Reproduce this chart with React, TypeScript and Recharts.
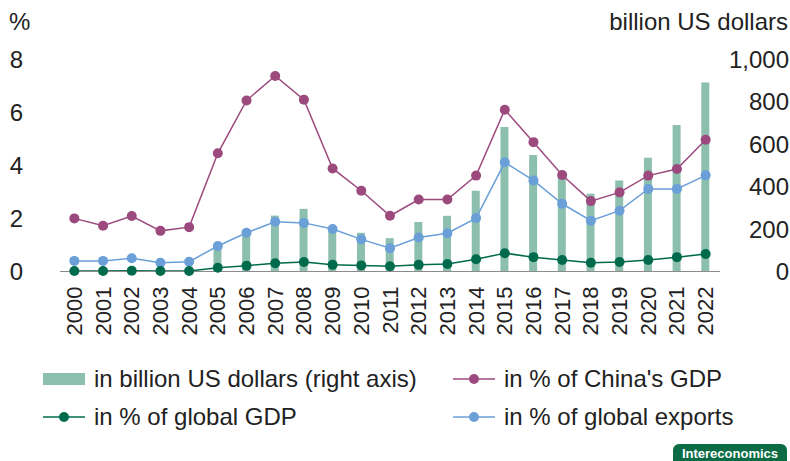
import { ComposedChart, Bar, Line, XAxis, YAxis } from 'recharts';

const YEARS = [
  '2000', '2001', '2002', '2003', '2004', '2005', '2006', '2007', '2008', '2009', '2010', '2011',
  '2012', '2013', '2014', '2015', '2016', '2017', '2018', '2019', '2020', '2021', '2022',
];
// bars, right axis
const BILLION_USD = [3, 2, 3, 2, 3, 115, 195, 263, 295, 205, 182, 157, 233, 262, 380, 680, 548, 460, 366, 428, 535, 689, 889];
// lines, left axis
const PCT_CHINA_GDP = [2.0, 1.72, 2.09, 1.53, 1.67, 4.45, 6.44, 7.36, 6.47, 3.88, 3.04, 2.1, 2.71, 2.71, 3.61, 6.09, 4.87, 3.63, 2.65, 2.98, 3.61, 3.86, 4.96];
const PCT_GLOBAL_EXPORTS = [0.4, 0.4, 0.5, 0.33, 0.37, 0.96, 1.46, 1.87, 1.83, 1.6, 1.21, 0.88, 1.28, 1.44, 2.01, 4.11, 3.43, 2.55, 1.91, 2.29, 3.11, 3.11, 3.62];
const PCT_GLOBAL_GDP = [0.02, 0.02, 0.03, 0.02, 0.02, 0.14, 0.22, 0.31, 0.36, 0.25, 0.23, 0.2, 0.25, 0.28, 0.46, 0.69, 0.54, 0.43, 0.33, 0.36, 0.43, 0.54, 0.66];

const LEFT_TICKS = [0, 2, 4, 6, 8];
const RIGHT_TICKS = [0, 200, 400, 600, 800, 1000];

const C_BAR = '#8dbfae';
const C_CHINA = '#9c4a7d';
const C_EXPORTS = '#6a9fd8';
const C_GDP = '#006b4c';
const TEXT = '#222';
const FONT = '"Liberation Sans", Arial, sans-serif';
const FS = 24;

const data = YEARS.map((year, i) => ({
  year,
  usd: BILLION_USD[i],
  china: PCT_CHINA_GDP[i],
  exports: PCT_GLOBAL_EXPORTS[i],
  gdp: PCT_GLOBAL_GDP[i],
}));

const XTick = ({ x, y, payload }: any) => (
  <text
    x={x}
    y={y + 13}
    transform={`rotate(-90 ${x} ${y + 13})`}
    textAnchor="end"
    dominantBaseline="central"
    fontSize={22}
    fontFamily={FONT}
    fill={TEXT}
  >
    {payload.value}
  </text>
);

const RightTick = ({ x, y, payload }: any) => (
  <text x={x + 67} y={y} textAnchor="end" dominantBaseline="central" fontSize={FS} fontFamily={FONT} fill={TEXT}>
    {payload.value.toLocaleString('en-US')}
  </text>
);

const LeftTick = ({ x, y, payload }: any) => (
  <text x={x - 35} y={y} textAnchor="end" dominantBaseline="central" fontSize={FS} fontFamily={FONT} fill={TEXT}>
    {payload.value}
  </text>
);

const LineSymbol = ({ color }: { color: string }) => (
  <svg width={42} height={12} style={{ flexShrink: 0 }}>
    <line x1={0} y1={6} x2={42} y2={6} stroke={color} strokeWidth={1.5} />
    <circle cx={21} cy={6} r={5} fill={color} />
  </svg>
);

const legendText: React.CSSProperties = {
  position: 'absolute',
  fontSize: FS,
  fontFamily: FONT,
  color: TEXT,
  display: 'flex',
  alignItems: 'center',
  gap: 9,
  whiteSpace: 'nowrap',
  lineHeight: '26px',
};

export default function App() {
  return (
    <div style={{ position: 'relative', width: 790, height: 461, background: '#fff', overflow: 'hidden' }}>
      <style>{'body{margin:0}'}</style>
      <ComposedChart width={790} height={461} data={data} margin={{ top: 59, right: 0, bottom: 119.5, left: 0 }} barCategoryGap={0}>
        <XAxis
          dataKey="year"
          interval={0}
          height={70}
          tick={<XTick />}
          tickLine={false}
          tickSize={0}
          axisLine={{ stroke: '#8c8c8c', strokeWidth: 1 }}
        />
        <YAxis
          yAxisId="left"
          orientation="left"
          width={60}
          domain={[0, 8]}
          ticks={LEFT_TICKS}
          tick={<LeftTick />}
          tickLine={false}
          tickSize={0}
          axisLine={false}
        />
        <YAxis
          yAxisId="right"
          orientation="right"
          width={70}
          domain={[0, 1000]}
          ticks={RIGHT_TICKS}
          tick={<RightTick />}
          tickLine={false}
          tickSize={0}
          axisLine={false}
        />
        <Bar yAxisId="right" dataKey="usd" fill={C_BAR} barSize={8} isAnimationActive={false} />
        <Line
          yAxisId="left"
          dataKey="exports"
          stroke={C_EXPORTS}
          strokeWidth={1.5}
          dot={{ r: 5, fill: C_EXPORTS, stroke: C_EXPORTS, strokeWidth: 0 }}
          activeDot={false}
          isAnimationActive={false}
        />
        <Line
          yAxisId="left"
          dataKey="gdp"
          stroke={C_GDP}
          strokeWidth={1.5}
          dot={{ r: 5, fill: C_GDP, stroke: C_GDP, strokeWidth: 0 }}
          activeDot={false}
          isAnimationActive={false}
        />
        <Line
          yAxisId="left"
          dataKey="china"
          stroke={C_CHINA}
          strokeWidth={1.5}
          dot={{ r: 5, fill: C_CHINA, stroke: C_CHINA, strokeWidth: 0 }}
          activeDot={false}
          isAnimationActive={false}
        />
      </ComposedChart>

      {/* axis titles */}
      <div style={{ position: 'absolute', left: 9, top: 9, fontSize: FS, fontFamily: FONT, color: TEXT, lineHeight: '26px' }}>%</div>
      <div style={{ position: 'absolute', right: 2, top: 9, fontSize: FS, fontFamily: FONT, color: TEXT, lineHeight: '26px' }}>
        billion US dollars
      </div>

      {/* legend */}
      <div style={{ ...legendText, left: 43, top: 366 }}>
        <span style={{ width: 42, height: 12, background: C_BAR, display: 'inline-block' }} />
        in billion US dollars (right axis)
      </div>
      <div style={{ ...legendText, left: 453, top: 366 }}>
        <LineSymbol color={C_CHINA} />
        in % of China's GDP
      </div>
      <div style={{ ...legendText, left: 43, top: 404 }}>
        <LineSymbol color={C_GDP} />
        in % of global GDP
      </div>
      <div style={{ ...legendText, left: 453, top: 404 }}>
        <LineSymbol color={C_EXPORTS} />
        in % of global exports
      </div>

      <div
        style={{
          position: 'absolute',
          left: 673,
          top: 444,
          width: 114,
          height: 24,
          background: '#0b6b45',
          borderRadius: 6,
          color: '#fff',
          fontFamily: FONT,
          fontWeight: 700,
          fontSize: 13,
          textAlign: 'center',
          lineHeight: '20px',
        }}
      >
        Intereconomics
      </div>
    </div>
  );
}
